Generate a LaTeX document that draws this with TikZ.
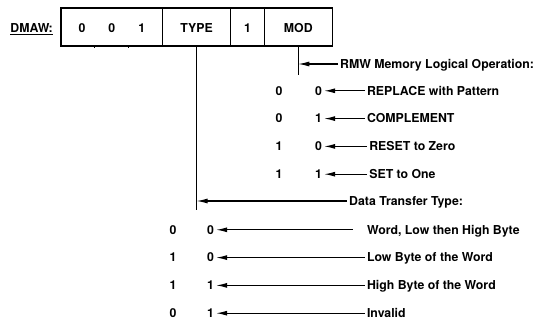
\documentclass[tikz,border=0pt]{standalone}
\usepackage{fontspec}
\setmainfont{TeX Gyre Heros}
\usepackage{tikz}
\usetikzlibrary{arrows.meta, positioning}

\begin{document}
\begin{tikzpicture}[
    x=1pt, y=1pt,
    font=\fontsize{12.3}{14}\selectfont\bfseries,
    field/.style={
        rectangle,
        draw,
        line width=1.4pt,
        minimum height=38pt,
        text height=11pt,
        text depth=0pt,
        inner sep=0pt,
        outer sep=0pt
    },
    bit/.style={
        inner sep=2pt,
        text height=8.6pt,
        text depth=0pt
    },
    lbl/.style={
        anchor=west,
        inner sep=2pt,
        text height=8.6pt,
        text depth=0pt
    },
    tap/.style={line width=1.1pt},
    arrow/.style={-{Latex[length=11pt, width=5pt]}, line width=1.1pt}
]
    \useasboundingbox (0,0) rectangle (540,-320);

    % Register fields
    \node [field, minimum width=101.7pt] (fixed) at (111.85,-27) {0\hspace{23pt}0\hspace{23pt}1};
    \node [field, minimum width=67.8pt, right=0pt of fixed] (type) {TYPE};
    \node [field, minimum width=33.9pt, right=0pt of type] (one) {1};
    \node [field, minimum width=67.8pt, right=0pt of one] (mod) {MOD};
    \node [lbl, text height=11pt, left=6pt of fixed] (dmaw) {\underline{DMAW:}};

    % bit ticks
    \draw [line width=1pt] ([xshift=33.9pt]fixed.south west) -- ++(0,-2.5);
    \draw [line width=1pt] ([xshift=67.8pt]fixed.south west) -- ++(0,-2.5);

    % MOD field taps
    \draw [tap] (mod.south) -- ++(0,-29) coordinate (modend);
    \node [lbl] (rmw) at (338,-64) {RMW Memory Logical Operation:};
    \draw [arrow] (rmw.west) -- (rmw.west -| mod.south);

    \node [bit] (m1a) at (279,-90.8) {0};
    \node [bit, right=28.3pt of m1a] (m1b) {0};
    \node [lbl, right=40.7pt of m1b] (replace) {REPLACE with Pattern};

    \node [bit] (m2a) at (279,-118.6) {0};
    \node [bit, right=28.3pt of m2a] (m2b) {1};
    \node [lbl, right=40.7pt of m2b] (compl) {COMPLEMENT};

    \node [bit] (m3a) at (279,-146.4) {1};
    \node [bit, right=28.3pt of m3a] (m3b) {0};
    \node [lbl, right=43pt of m3b] (reset) {RESET to Zero};

    \node [bit] (m4a) at (279,-174.2) {1};
    \node [bit, right=28.3pt of m4a] (m4b) {1};
    \node [lbl, right=43pt of m4b] (set) {SET to One};

    \draw [arrow] (replace.west) -- (m1b.east);
    \draw [arrow] (compl.west) -- (m2b.east);
    \draw [arrow] (reset.west) -- (m3b.east);
    \draw [arrow] (set.west) -- (m4b.east);

    % TYPE field taps
    \draw [tap] (type.south) -- ++(0,-164) coordinate (typeend);
    \node [lbl] (dtt) at (347,-201) {Data Transfer Type:};
    \draw [arrow] (dtt.west) -- (dtt.west -| type.south);

    \node [bit] (t1a) at (173,-229.8) {0};
    \node [bit, right=26.3pt of t1a] (t1b) {0};
    \node [lbl, right=148.7pt of t1b] (word) {Word, Low then High Byte};

    \node [bit] (t2a) at (173,-257.6) {1};
    \node [bit, right=26.3pt of t2a] (t2b) {0};
    \node [lbl, right=148.7pt of t2b] (lowb) {Low Byte of the Word};

    \node [bit] (t3a) at (173,-285.4) {1};
    \node [bit, right=26.3pt of t3a] (t3b) {1};
    \node [lbl, right=148.7pt of t3b] (highb) {High Byte of the Word};

    \node [bit] (t4a) at (173,-313.2) {0};
    \node [bit, right=26.3pt of t4a] (t4b) {1};
    \node [lbl, right=148.7pt of t4b] (inval) {Invalid};

    \draw [arrow, shorten <=12pt] (word.west) -- (t1b.east);
    \draw [arrow] (lowb.west) -- (t2b.east);
    \draw [arrow] (highb.west) -- (t3b.east);
    \draw [arrow] (inval.west) -- (t4b.east);

\end{tikzpicture}
\end{document}
